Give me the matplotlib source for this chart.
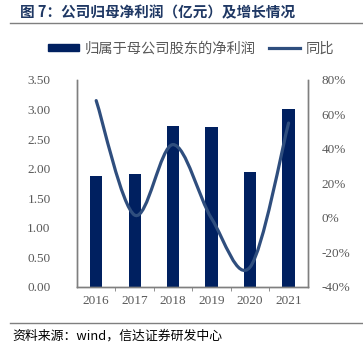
import matplotlib.pyplot as plt
import numpy as np
from matplotlib.path import Path
from matplotlib.patches import PathPatch
from matplotlib.lines import Line2D
from matplotlib.patches import Patch

plt.rcParams['font.family'] = ['Noto Sans CJK SC', 'DejaVu Sans']

years = ['2016', '2017', '2018', '2019', '2020', '2021']
profit = [1.88, 1.91, 2.72, 2.71, 1.94, 3.01]      # 亿元
growth = [68.0, 1.6, 42.5, -0.4, -28.5, 55.0]      # %

left_ticks = ['0.00', '0.50', '1.00', '1.50', '2.00', '2.50', '3.00', '3.50']
right_ticks = ['-40%', '-20%', '0%', '20%', '40%', '60%', '80%']

bar_color = '#002060'
line_color = '#2F4E7E'
spine_color = '#7F7F7F'
text_gray = '#595959'

fig = plt.figure(figsize=(3.63, 3.52), dpi=100)
ax = fig.add_axes([0.212, 0.185, 0.636, 0.588])
ax2 = ax.twinx()

x = np.arange(len(years))
ax.bar(x, profit, width=0.32, color=bar_color, zorder=2)
ax.set_xlim(-0.5, len(years) - 0.5)
ax.set_ylim(0, 3.5)
ax.set_yticks(np.arange(0, 3.51, 0.5))
ax.set_yticklabels(left_ticks, family='Liberation Serif', fontsize=9.5, color=text_gray)
ax.set_xticks(x)
ax.set_xticklabels(years, family='Liberation Serif', fontsize=9.5, color=text_gray)
ax.tick_params(axis='x', length=0, pad=6)
ax.set_xticks(np.arange(0.5, len(years) - 0.5, 1), minor=True)
ax.tick_params(axis='x', which='minor', length=3, color=spine_color, direction='out')
ax.tick_params(axis='y', length=0, pad=19)

ax2.set_ylim(-40, 80)
ax2.set_yticks(np.arange(-40, 81, 20))
ax2.set_yticklabels(right_ticks, family='Liberation Serif', fontsize=9.5, color=text_gray)
ax2.tick_params(axis='y', length=0, pad=10)

for a in (ax, ax2):
    a.spines['top'].set_visible(False)
    for s in ('left', 'right', 'bottom'):
        a.spines[s].set_color(spine_color)
        a.spines[s].set_linewidth(1.0)

# smoothed line (Excel-style bezier through the data points)
pts = np.column_stack([x, growth]).astype(float)
verts = [tuple(pts[0])]
codes = [Path.MOVETO]
n = len(pts)
for i in range(n - 1):
    p0 = pts[i - 1] if i > 0 else pts[i]
    p1, p2 = pts[i], pts[i + 1]
    p3 = pts[i + 2] if i + 2 < n else pts[i + 1]
    c1 = p1 + (p2 - p0) / 6
    c2 = p2 - (p3 - p1) / 6
    verts += [tuple(c1), tuple(c2), tuple(p2)]
    codes += [Path.CURVE4] * 3
ax2.add_patch(PathPatch(Path(verts, codes), facecolor='none', edgecolor=line_color,
                        lw=2.3, capstyle='round', zorder=3))

handles = [Patch(color=bar_color), Line2D([], [], color=line_color, lw=2.3)]
fig.legend(handles, ['归属于母公司股东的净利润', '同比'], loc='center', bbox_to_anchor=(0.527, 0.862),
           ncol=2, frameon=False, fontsize=10.3, labelcolor=text_gray,
           handlelength=2.2, handleheight=0.45, columnspacing=0.9, handletextpad=0.4)

fig.text(0.055, 0.965, '图 7：公司归母净利润（亿元）及增长情况', fontsize=10.5, fontweight='bold',
         color='#1F3864', va='center')
fig.add_artist(Line2D([0.028, 1.0], [0.935, 0.935], color='#7F7F7F', lw=1.0))
fig.add_artist(Line2D([0.028, 1.0], [0.083, 0.083], color='#7F7F7F', lw=1.0))
fig.text(0.035, 0.046, '资料来源：wind，信达证券研发中心', fontsize=9.3, color='black',
         style='italic', va='center')

fig.savefig('out.png', dpi=100)
